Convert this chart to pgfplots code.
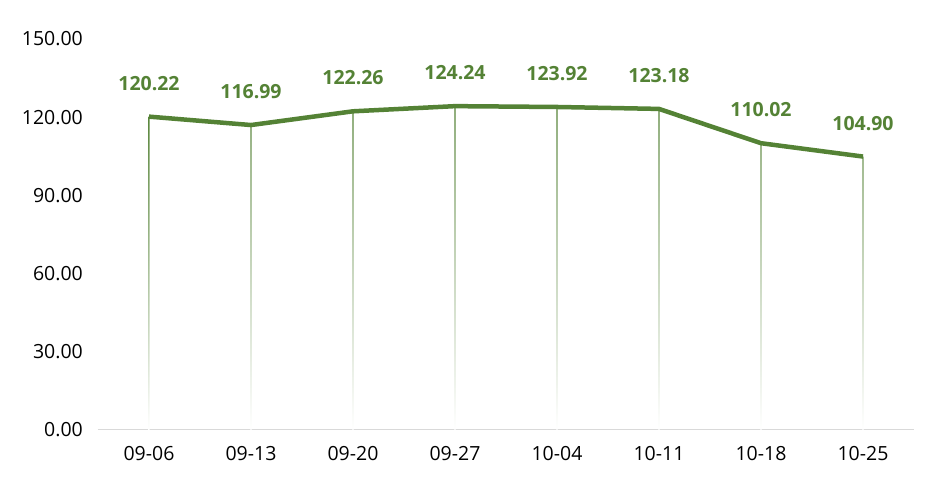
\documentclass[border=0pt]{standalone}
\usepackage{fontspec}
\setmainfont{Open Sans}
\usepackage{pgfplots}
\pgfplotsset{compat=1.18}
\definecolor{lgreen}{RGB}{84,130,53}
\definecolor{axgray}{RGB}{217,217,217}

\begin{document}
\begin{tikzpicture}
\begin{axis}[
    scale only axis,
    width=816bp, height=391bp,
    xmin=-0.5, xmax=7.5,
    ymin=0, ymax=150,
    ytick={0,30,60,90,120,150},
    xtick={0,...,7},
    xticklabels={09-06,09-13,09-20,09-27,10-04,10-11,10-18,10-25},
    axis x line*=bottom,
    axis y line*=left,
    x axis line style={axgray, line width=1bp, -},
    y axis line style={draw=none},
    major tick length=0pt,
    tick style={draw=none},
    /pgf/number format/assume math mode=true,
    yticklabel={\pgfmathprintnumber[fixed, fixed zerofill, precision=2]{\tick}},
    ticklabel style={font=\fontsize{19.5bp}{22bp}\selectfont, inner sep=0pt},
    yticklabel style={anchor=east, xshift=-15bp},
    xticklabel style={anchor=north, yshift=-16bp},
    clip=false,
]
% drop lines, fading to white at the bottom
\addplot[ybar, bar width=1.4bp, draw=none, top color=lgreen, middle color=lgreen!60, bottom color=white]
  coordinates {(0,120.22) (1,116.99) (2,122.26) (3,124.24) (4,123.92) (5,123.18) (6,110.02) (7,104.90)};
% main line with value labels
\addplot[lgreen, line width=4.5bp, line join=round,
    nodes near coords={\bfseries\pgfmathprintnumber[fixed, fixed zerofill, precision=2]{\pgfplotspointmeta}},
    nodes near coords style={anchor=south, inner sep=0pt, yshift=24bp,
        font=\fontsize{19.5bp}{22bp}\selectfont\bfseries, text=lgreen},
    point meta=explicit]
  coordinates {(0,120.22) [120.22] (1,116.99) [116.99] (2,122.26) [122.26] (3,124.24) [124.24]
               (4,123.92) [123.92] (5,123.18) [123.18] (6,110.02) [110.02] (7,104.90) [104.90]};
\end{axis}
\path[use as bounding box] (-98bp,-59bp) rectangle (845bp,430bp);
\end{tikzpicture}
\end{document}
